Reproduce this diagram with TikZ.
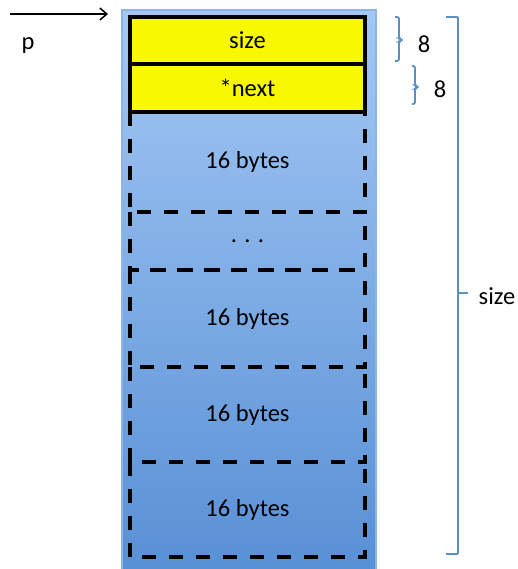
\documentclass[tikz,border=0pt]{standalone}
\usepackage{fontspec}
\setmainfont{Carlito}
\usetikzlibrary{arrows.meta}
\definecolor{memtop}{HTML}{A4C8F4}
\definecolor{membot}{HTML}{5890D6}
\definecolor{memedge}{HTML}{8CB4E6}
\definecolor{hdr}{HTML}{F8F800}
\definecolor{brk}{HTML}{5A8FC8}
\tikzset{
  txt/.style={font=\fontsize{24.5}{28}\selectfont, text=black},
  membox/.style={draw=memedge, line width=1.2pt, top color=memtop, bottom color=membot, minimum width=254pt, minimum height=560pt, inner sep=0pt},
  hdrbox/.style={draw=black, line width=4pt, fill=hdr, minimum width=235pt, inner sep=0pt, txt},
  slotbox/.style={minimum width=235pt, inner sep=0pt, txt},
  dashline/.style={draw=black, line width=4pt, dash pattern=on 14pt off 13pt},
  brace/.style={draw=brk, line width=1.8pt, rounded corners=2pt},
}
\begin{document}
\begin{tikzpicture}[x=1pt,y=-1pt]
\useasboundingbox (0,0) rectangle (517,569);
\node[membox] (mem) at (249,290) {};
\node[hdrbox, minimum height=47pt] (hsize) at (247.5,40.5) {size};
\node[hdrbox, minimum height=48pt] (hnext) at (247.5,88) {*next};
\node[slotbox, minimum height=100pt] (slotA) at (247.5,162) {16 bytes};
\node[slotbox, minimum height=58pt] (slotDots) at (247.5,241) {. . .};
\node[slotbox, minimum height=97pt] (slotB) at (247.5,318.5) {16 bytes};
\node[slotbox, minimum height=95pt] (slotC) at (247.5,414.5) {16 bytes};
\node[slotbox, minimum height=95pt] (slotD) at (247.5,509.5) {16 bytes};
% dashed slot outlines (each box: sides and bottom)
\draw[dashline] (slotA.north west) -- (slotA.north east);
\draw[dashline] (slotA.north west) -- (slotA.south west) -- (slotA.south east) -- (slotA.north east);
\draw[dashline] (slotDots.north west) -- (slotDots.south west) -- (slotDots.south east) -- (slotDots.north east);
\draw[dashline, dash phase=7pt] (slotDots.south west) -- (slotDots.south east);
\draw[dashline] (slotB.north west) -- (slotB.south west) -- (slotB.south east) -- (slotB.north east);
\draw[dashline] (slotC.north west) -- (slotC.south west) -- (slotC.south east) -- (slotC.north east);
\draw[dashline] (slotD.north west) -- (slotD.south west) -- (slotD.south east) -- (slotD.north east);
% pointer
\coordinate (pstart) at (10,14);
\coordinate (pend) at (108,14);
\draw[line width=1.5pt, -{Straight Barb[length=7pt,width=12pt]}] (pstart) -- (pend);
\node[txt] (p) at (28,46) {p};
% small braces
\draw[brace] (395,17) -- (399,17) -- (399,39) -- (402,40) -- (399,41) -- (399,61) -- (395,61);
\node[txt] (b1) at (424,44) {8};
\draw[brace] (412,66) -- (415,66) -- (415,86) -- (418,87) -- (415,88) -- (415,104) -- (412,104);
\node[txt] (b2) at (440,89) {8};
% big bracket
\draw[brace, rounded corners=1pt] (446,17) -- (458,17) -- (458,554) -- (446,554);
\draw[brace] (458,293) -- (468,293);
\node[txt] (szl) at (497,296) {size};
\end{tikzpicture}
\end{document}
